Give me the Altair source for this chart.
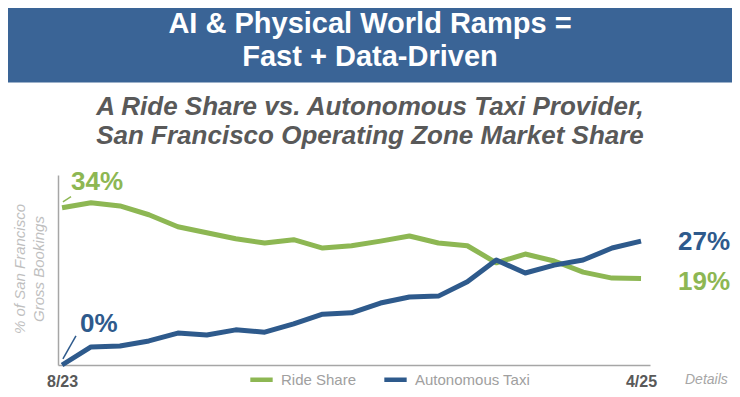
import altair as alt
import pandas as pd

# ---- data ----
months = list(range(21))  # 8/23 .. 4/25, monthly
ride_share = [34.0, 35.1, 34.4, 32.5, 29.9, 28.6, 27.3, 26.4, 27.1, 25.3, 25.8,
              26.8, 27.9, 26.4, 25.8, 22.1, 24.0, 22.5, 20.1, 18.8, 18.7]
autonomous = [0.0, 3.9, 4.1, 5.2, 6.9, 6.5, 7.6, 7.1, 8.9, 11.0, 11.3,
              13.4, 14.7, 14.9, 18.0, 22.7, 19.9, 21.6, 22.7, 25.3, 26.8]
series_names = ["Ride Share", "Autonomous Taxi"]
series_colors = ["#8DB753", "#2E5A8C"]
tick_values = [0, 20]
tick_labels = ["8/23", "4/25"]

title_lines = ["AI & Physical World Ramps =", "Fast + Data-Driven"]
subtitle_lines = ["A Ride Share vs. Autonomous Taxi Provider,",
                  "San Francisco Operating Zone Market Share"]
yaxis_lines = ["% of San Francisco", "Gross Bookings"]
footnote = "Details"

ann_text = ["34%", "0%", "27%", "19%"]
ann_x = [0, 0, 20, 20]
ann_y = [34.0, 0.0, 26.8, 18.7]
ann_series = ["Ride Share", "Autonomous Taxi", "Autonomous Taxi", "Ride Share"]

# ---- tables ----
df = pd.DataFrame({
    "month": months * 2,
    "share": ride_share + autonomous,
    "series": [series_names[0]] * len(months) + [series_names[1]] * len(months),
})
ann = pd.DataFrame({"label": ann_text, "x": ann_x, "y": ann_y, "series": ann_series})
leaders = pd.DataFrame({
    "x": [0.03, 0.03], "x2": [0.31, 0.48],
    "y": [35.3, 1.3], "y2": [36.4, 6.3],
    "series": ["Ride Share", "Autonomous Taxi"],
})

FONT = "Liberation Sans"
xscale = alt.Scale(domain=[-0.14, 20.31], nice=False, zero=False)
yscale = alt.Scale(domain=[0, 41.1], nice=False)
color = alt.Color("series:N",
                  scale=alt.Scale(domain=series_names, range=series_colors),
                  legend=alt.Legend(title=None, orient="none", direction="horizontal",
                                    legendX=190, legendY=191,
                                    symbolType="stroke", symbolSize=500,
                                    symbolStrokeWidth=4.5, labelFontSize=15,
                                    labelFont=FONT, labelColor="#A0A0A0",
                                    labelBaseline="middle",
                                    columnPadding=18, labelOffset=6))

lines = alt.Chart(df).mark_line(strokeWidth=5, strokeJoin="round").encode(
    x=alt.X("month:Q", scale=xscale,
            axis=alt.Axis(title=None, values=tick_values, grid=False, ticks=False,
                          labelExpr="datum.value == 0 ? '%s' : '%s'" % tuple(tick_labels),
                          labelFont=FONT, labelFontSize=16, labelFontWeight="bold",
                          labelColor="#595959", labelPadding=8,
                          domainColor="#A6A6A6", domainWidth=1.5, labelFlush=False)),
    y=alt.Y("share:Q", scale=yscale,
            axis=alt.Axis(title=None, labels=False, ticks=False, grid=False,
                          domainColor="#A6A6A6", domainWidth=1.5)),
    color=color,
)

cscale = alt.Scale(domain=series_names, range=series_colors)

leader_rules = alt.Chart(leaders).mark_rule(strokeWidth=1.5).encode(
    x=alt.X("x:Q", scale=xscale), x2="x2:Q",
    y=alt.Y("y:Q", scale=yscale), y2="y2:Q",
    color=alt.Color("series:N", scale=cscale, legend=None),
)

ann_base = alt.Chart(ann).encode(
    x=alt.X("x:Q", scale=xscale), y=alt.Y("y:Q", scale=yscale),
    text="label:N",
    color=alt.Color("series:N", scale=cscale, legend=None),
)
offsets = {"34%": (9, -26), "0%": (18, -41), "27%": (37, 1), "19%": (37, 3)}
ann_layers = [
    ann_base.transform_filter(alt.datum.label == lbl).mark_text(
        align="left", baseline="middle", font=FONT, fontSize=26,
        fontWeight="bold", dx=d[0], dy=d[1])
    for lbl, d in offsets.items()
]

# banner and header texts (pixel positions relative to plot area)
banner = alt.Chart(pd.DataFrame({"a": [0]})).mark_rect(color="#3A6496").encode(
    x=alt.value(-50), x2=alt.value(674), y=alt.value(-167), y2=alt.value(-92.5))

def text_line(txt, x, y, **kw):
    return alt.Chart(pd.DataFrame({"t": [txt]})).mark_text(
        baseline="middle", font=FONT, **kw).encode(
        x=alt.value(x), y=alt.value(y), text="t:N")

headers = [
    text_line(title_lines[0], 312, -151, fontSize=29, fontWeight="bold", color="white"),
    text_line(title_lines[1], 312, -118, fontSize=29, fontWeight="bold", color="white"),
    text_line(subtitle_lines[0], 312, -68, fontSize=26, fontWeight="bold",
              fontStyle="italic", color="#595959"),
    text_line(subtitle_lines[1], 312, -39, fontSize=26, fontWeight="bold",
              fontStyle="italic", color="#595959"),
    text_line(yaxis_lines[0], -38, 94, fontSize=15, fontStyle="italic",
              color="#BFBFBF", angle=270),
    text_line(yaxis_lines[1], -19, 94, fontSize=15, fontStyle="italic",
              color="#BFBFBF", angle=270),
    text_line(footnote, 627, 205, fontSize=14, fontStyle="italic",
              color="#A6A6A6", align="left"),
]

chart = alt.layer(banner, *headers, lines, leader_rules, *ann_layers).properties(
    width=592, height=190,
    autosize=alt.AutoSizeParams(type="none"),
    padding={"left": 50, "top": 167, "right": 82, "bottom": 24},
    background="white",
).configure_view(stroke=None)

chart.save("out.html", embed_options={"renderer": "svg", "actions": False})
